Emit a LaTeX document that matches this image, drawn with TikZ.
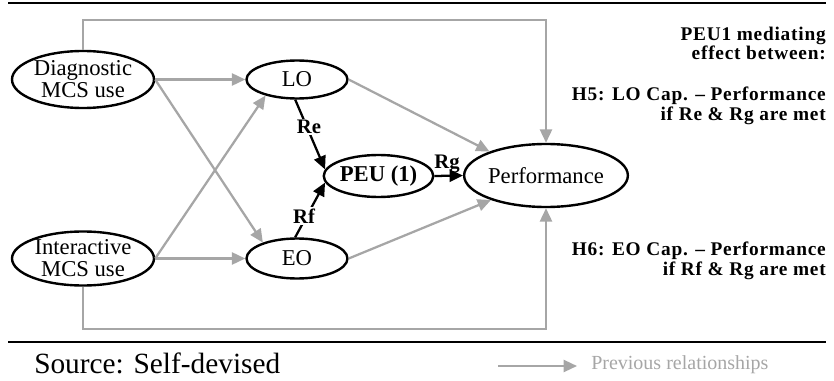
\documentclass[tikz,border=0pt]{standalone}
\usepackage{fontspec}
\setmainfont{Liberation Serif}
\usetikzlibrary{arrows.meta,shapes.geometric}
\definecolor{relgray}{RGB}{166,166,166}
\tikzset{
  construct/.style={ellipse, draw=black, line width=1.8pt, fill=white, inner sep=0pt,
    align=center, font=\fontsize{17}{16.5}\selectfont},
  prevrel/.style={draw=relgray, line width=1.7pt, -{Triangle[length=10pt,width=9pt]}},
  mediation/.style={draw=black, line width=1.7pt, -{Triangle[length=10pt,width=9pt]}},
  pathlabel/.style={font=\bfseries\fontsize{15.5}{16}\selectfont, inner sep=1pt, fill=white},
  notetext/.style={anchor=mid east, inner sep=0pt,
    font=\bfseries\fontsize{14.5}{14.5}\selectfont\addfontfeature{LetterSpace=4}},
  rule/.style={draw=black, line width=1.8pt},
}
\begin{document}
\begin{tikzpicture}[x=0.75pt,y=-0.75pt]
\useasboundingbox (0,0) rectangle (834,381);

% horizontal rules framing the model
\coordinate (topL) at (8,3);
\coordinate (topR) at (826,3);
\coordinate (botL) at (8,342);
\coordinate (botR) at (826,342);
\draw[rule] (topL) -- (topR);
\draw[rule] (botL) -- (botR);

% constructs
\node[construct, minimum width=106.5pt, minimum height=42.75pt] (diag) at (83,79.5) {Diagnostic\\MCS use};
\node[construct, minimum width=106.5pt, minimum height=40.5pt] (inter) at (83,258.5) {Interactive\\MCS use};
\node[construct, minimum width=75.75pt, minimum height=28.5pt] (lo) at (297,79.5) {LO};
\node[construct, minimum width=75.75pt, minimum height=30pt] (eo) at (297,258.5) {EO};
\node[construct, minimum width=80.25pt, minimum height=31.5pt,
  font=\bfseries\fontsize{17}{17}\selectfont] (peu) at (378.5,176) {PEU (1)};
\node[construct, minimum width=105.75pt, minimum height=47.25pt] (perf) at (546,175.5) {Performance};

% previously established relationships
\draw[prevrel] (diag.north) -- ++(0,-30) -| (perf.north);
\draw[prevrel] (inter.south) -- ++(0,42) -| (perf.south);
\draw[prevrel] (diag.east) -- (lo.west);
\draw[prevrel] (inter.east) -- (eo.west);
\draw[prevrel] (diag.east) -- (eo.155);
\draw[prevrel] (inter.east) -- (lo.207);
\draw[prevrel] (lo.east) -- (perf.157);
\draw[prevrel] (eo.east) -- (perf.204);

% mediation paths through PEU
\draw[mediation] (lo.-95) -- (peu.173);
\draw[mediation] (eo.95) -- (peu.187);
\draw[mediation] (peu.east) -- (perf.west);
\node[pathlabel] (re) at (309,127) {Re};
\node[pathlabel] (rf) at (304,216) {Rf};
\node[pathlabel, fill=none] (rg) at (447,164) {Rg};

% hypotheses
\node[notetext] (n1) at (826,37) {PEU1 mediating};
\node[notetext] (n2) at (826,56) {effect between:};
\node[notetext] (h5a) at (826,97) {H5: LO Cap. – Performance};
\node[notetext] (h5b) at (826,117) {if Re \& Rg are met};
\node[notetext] (h6a) at (826,252) {H6: EO Cap. – Performance};
\node[notetext] (h6b) at (826,272) {if Rf \& Rg are met};

% source and legend
\node[anchor=base west, inner sep=0pt, font=\fontsize{22}{22}\selectfont] (src) at (34,373) {Source: Self-devised};
\coordinate (legA) at (498,366);
\coordinate (legB) at (577,366);
\draw[prevrel] (legA) -- (legB);
\node[anchor=mid west, inner sep=0pt, text=relgray, font=\fontsize{15}{15}\selectfont] (leg) at (591,366) {Previous relationships};
\end{tikzpicture}
\end{document}
